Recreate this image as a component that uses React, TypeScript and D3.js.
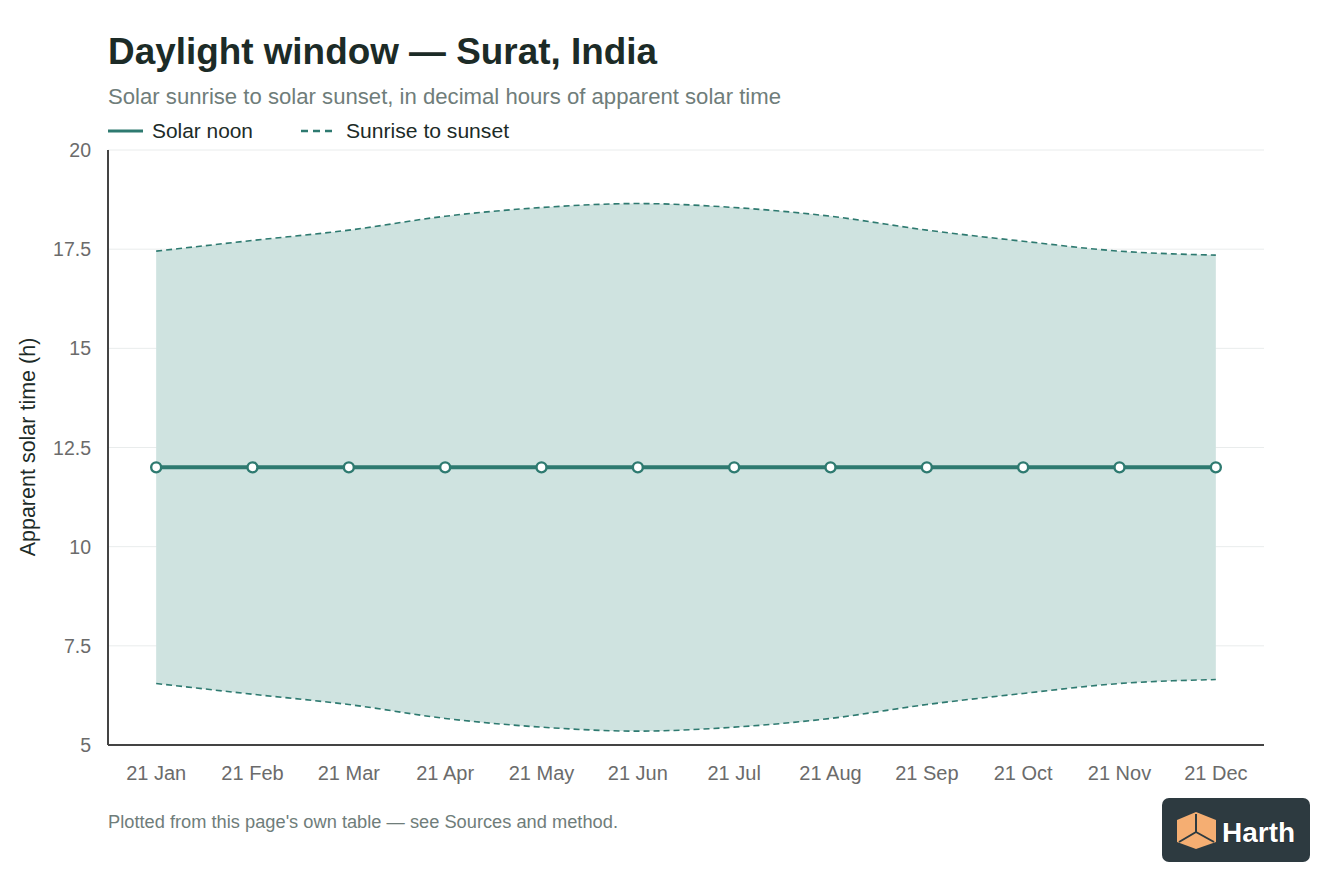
import React from "react";
import * as d3 from "d3";

const months = ["21 Jan", "21 Feb", "21 Mar", "21 Apr", "21 May", "21 Jun", "21 Jul", "21 Aug", "21 Sep", "21 Oct", "21 Nov", "21 Dec"];
const sunrise = [6.55, 6.28, 6.02, 5.67, 5.45, 5.35, 5.45, 5.67, 6.02, 6.3, 6.55, 6.65];
const sunset = [17.45, 17.72, 17.98, 18.33, 18.55, 18.65, 18.55, 18.33, 17.98, 17.7, 17.45, 17.35];
const noon = [12, 12, 12, 12, 12, 12, 12, 12, 12, 12, 12, 12];
const yTicks = [5, 7.5, 10, 12.5, 15, 17.5, 20];

const W = 1344, H = 896;
const L = 108, R = 1264, T = 150, B = 745;
const TEAL = "#2e7a70";
const FONT = "'Liberation Sans', Arial, Helvetica, sans-serif";

export default function App() {
  const x = d3.scalePoint<string>().domain(months).range([L, R]).padding(0.5);
  const y = d3.scaleLinear().domain([5, 20]).range([B, T]);
  const idx = d3.range(months.length);
  const area = d3.area<number>()
    .x((i) => x(months[i])!)
    .y0((i) => y(sunrise[i]))
    .y1((i) => y(sunset[i]))
    .curve(d3.curveMonotoneX);
  const lineOf = (arr: number[]) =>
    d3.line<number>().x((i) => x(months[i])!).y((i) => y(arr[i])).curve(d3.curveMonotoneX)(idx)!;

  return (
    <svg width={W} height={H} style={{ position: "absolute", left: 0, top: 0, background: "#fff" }} fontFamily={FONT}>
      <rect width={W} height={H} fill="#fff" />
      <text x={108} y={64} fontSize={37} fontWeight={700} fill="#1c2b27" textLength={549} lengthAdjust="spacingAndGlyphs">Daylight window — Surat, India</text>
      <text x={108} y={104} fontSize={21.5} fill="#6f7d7a" textLength={673} lengthAdjust="spacingAndGlyphs">Solar sunrise to solar sunset, in decimal hours of apparent solar time</text>
      {/* legend */}
      <line x1={108} x2={143} y1={131} y2={131} stroke={TEAL} strokeWidth={3} />
      <text x={152} y={138} fontSize={20.5} fill="#1c2b27" textLength={101} lengthAdjust="spacingAndGlyphs">Solar noon</text>
      <line x1={301} x2={334} y1={131} y2={131} stroke={TEAL} strokeWidth={2.5} strokeDasharray="7,5" />
      <text x={346} y={138} fontSize={20.5} fill="#1c2b27" textLength={163} lengthAdjust="spacingAndGlyphs">Sunrise to sunset</text>
      {/* grid */}
      {yTicks.map((t) => (
        <g key={t}>
          <line x1={L} x2={R} y1={y(t)} y2={y(t)} stroke="#e9ecec" strokeWidth={1} />
          <text x={91} y={y(t) + 7} fontSize={19.5} fill="#6b6b6b" textAnchor="end">{t}</text>
        </g>
      ))}
      <path d={area(idx)!} fill="#cfe3e0" />
      <path d={lineOf(sunset)} fill="none" stroke={TEAL} strokeWidth={1.6} strokeDasharray="6,4" />
      <path d={lineOf(sunrise)} fill="none" stroke={TEAL} strokeWidth={1.6} strokeDasharray="6,4" />
      <path d={lineOf(noon)} fill="none" stroke={TEAL} strokeWidth={4} />
      {idx.map((i) => (
        <circle key={i} cx={x(months[i])} cy={y(noon[i])} r={5} fill="#fff" stroke={TEAL} strokeWidth={2.4} />
      ))}
      {/* axes */}
      <line x1={L} x2={L} y1={T} y2={B} stroke="#444" strokeWidth={2} />
      <line x1={L} x2={R} y1={B} y2={B} stroke="#444" strokeWidth={2} />
      {months.map((m) => (
        <text key={m} x={x(m)} y={780} fontSize={20} fill="#6b6b6b" textAnchor="middle">{m}</text>
      ))}
      <text transform={`translate(35,447) rotate(-90)`} fontSize={21.5} fill="#1c2b27" textAnchor="middle">Apparent solar time (h)</text>
      <text x={108} y={828} fontSize={17.5} fill="#6f7d7a" textLength={510} lengthAdjust="spacingAndGlyphs">Plotted from this page's own table — see Sources and method.</text>
      {/* logo */}
      <g>
        <rect x={1162} y={798} width={148} height={64} rx={7} fill="#2d3a40" />
        <polygon points="1196,812 1216,820 1216,842 1196,849 1177,842 1177,820" fill="#f5ae72" />
        <polyline points="1196,814 1196,832 1179,842" fill="none" stroke="#2d3a40" strokeWidth={2} />
        <line x1={1196} y1={832} x2={1214} y2={842} stroke="#2d3a40" strokeWidth={2} />
        <text x={1222} y={842} fontSize={28} fontWeight={700} fill="#fff" stroke="#111" strokeWidth={0.6} paintOrder="stroke">Harth</text>
      </g>
    </svg>
  );
}
